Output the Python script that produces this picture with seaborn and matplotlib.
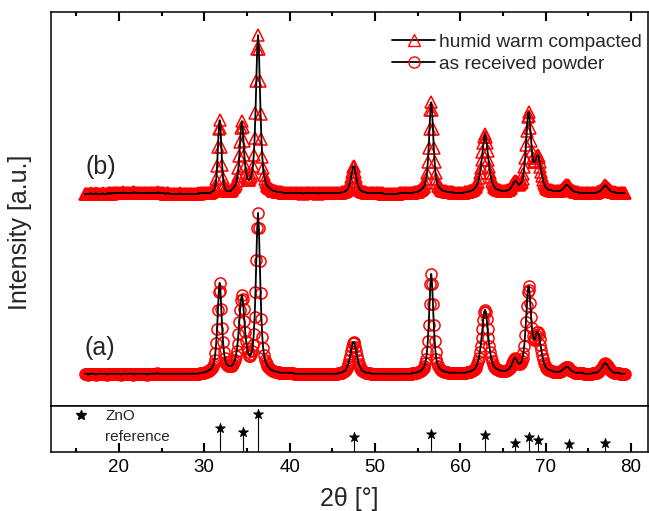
import numpy as np
import pandas as pd
import seaborn as sns
import matplotlib.pyplot as plt
from matplotlib.lines import Line2D
from matplotlib.ticker import MultipleLocator

# scan grid, 0.1 deg steps
two_theta = np.round(np.arange(160, 794) / 10, 1)

# (a) as received powder, intensity (one row per degree)
as_received = [
    1, 1, 1, 1, 0, 1, 1, 1, 1, 1,
    1, 1, 1, 0, 1, 1, 1, 1, 1, 1,
    1, 1, 1, 1, 1, 1, 0, 1, 1, 1,
    1, 1, 1, 1, 1, 1, 1, 1, 1, 1,
    1, 1, 0, 1, 1, 1, 1, 1, 1, 1,
    1, 1, 1, 1, 1, 1, 1, 0, 1, 1,
    1, 1, 1, 1, 1, 1, 1, 1, 1, 1,
    1, 1, 1, 0, 1, 1, 1, 1, 1, 1,
    1, 1, 1, 1, 1, 2, 1, 1, 1, 1,
    1, 1, 1, 1, 1, 1, 1, 1, 1, 1,
    1, 1, 1, 1, 1, 1, 1, 1, 1, 1,
    1, 1, 1, 1, 1, 1, 1, 1, 1, 1,
    1, 1, 1, 1, 1, 1, 1, 1, 1, 1,
    1, 1, 1, 1, 1, 2, 2, 2, 2, 2,
    2, 3, 3, 3, 4, 4, 5, 5, 6, 7,
    9, 11, 15, 22, 32, 46, 65, 83, 92, 84,
    66, 47, 33, 23, 17, 13, 11, 10, 9, 9,
    9, 9, 9, 10, 11, 13, 15, 19, 24, 31,
    41, 53, 65, 75, 80, 76, 66, 54, 43, 34,
    27, 23, 20, 19, 19, 21, 24, 30, 41, 58,
    83, 115, 147, 162, 147, 114, 82, 56, 38, 27,
    20, 15, 13, 11, 9, 8, 7, 6, 5, 5,
    4, 4, 4, 3, 3, 3, 3, 3, 2, 2,
    2, 2, 2, 2, 2, 2, 2, 2, 2, 2,
    2, 2, 2, 2, 2, 1, 1, 1, 1, 1,
    1, 1, 1, 1, 1, 1, 1, 1, 1, 1,
    1, 1, 1, 1, 1, 1, 1, 1, 1, 1,
    1, 1, 1, 1, 1, 1, 1, 1, 1, 1,
    1, 1, 1, 1, 1, 1, 1, 1, 1, 1,
    1, 1, 1, 1, 1, 1, 1, 2, 2, 2,
    2, 2, 3, 3, 4, 4, 5, 7, 9, 11,
    15, 19, 24, 28, 32, 33, 32, 28, 24, 19,
    15, 11, 9, 7, 5, 4, 4, 3, 3, 2,
    2, 2, 2, 2, 2, 1, 1, 1, 1, 1,
    1, 1, 1, 1, 1, 1, 1, 1, 1, 1,
    1, 1, 1, 1, 1, 1, 1, 1, 1, 1,
    1, 1, 1, 1, 1, 1, 1, 1, 1, 1,
    1, 1, 1, 1, 1, 1, 1, 1, 1, 1,
    1, 1, 1, 1, 2, 2, 2, 2, 2, 2,
    3, 3, 3, 4, 4, 5, 6, 7, 9, 12,
    16, 23, 34, 50, 71, 91, 101, 91, 71, 50,
    34, 23, 16, 12, 9, 8, 6, 5, 5, 4,
    4, 3, 3, 3, 3, 3, 2, 2, 2, 2,
    2, 2, 2, 2, 2, 2, 2, 2, 2, 2,
    2, 2, 2, 2, 2, 2, 2, 2, 3, 3,
    3, 3, 3, 4, 4, 5, 5, 6, 7, 9,
    11, 14, 17, 23, 29, 37, 46, 55, 63, 65,
    63, 56, 46, 37, 29, 23, 18, 14, 11, 9,
    8, 7, 6, 6, 5, 5, 5, 4, 4, 4,
    4, 4, 4, 4, 4, 5, 5, 6, 7, 8,
    9, 12, 14, 16, 17, 16, 15, 13, 12, 11,
    11, 12, 14, 17, 22, 29, 40, 53, 69, 83,
    89, 85, 72, 58, 47, 39, 36, 35, 37, 40,
    43, 43, 41, 36, 30, 25, 20, 16, 12, 10,
    8, 7, 6, 5, 5, 5, 4, 4, 4, 3,
    3, 3, 3, 3, 3, 3, 3, 3, 4, 4,
    5, 6, 6, 7, 8, 8, 8, 7, 6, 5,
    4, 4, 3, 3, 2, 2, 2, 2, 2, 2,
    2, 2, 2, 2, 2, 1, 1, 1, 1, 1,
    1, 1, 1, 1, 1, 2, 2, 2, 2, 2,
    2, 3, 3, 4, 5, 6, 7, 9, 10, 11,
    12, 11, 10, 9, 7, 6, 5, 4, 3, 3,
    2, 2, 2, 2, 2, 2, 2, 1, 1, 1,
    1, 1, 1, 1,
]

# (b) humid warm compacted
humid_warm = [
    1, 1, 1, 1, 1, 1, 1, 2, 1, 1,
    1, 1, 1, 2, 1, 1, 1, 1, 1, 1,
    1, 2, 1, 1, 1, 1, 1, 2, 2, 1,
    2, 2, 1, 2, 2, 2, 2, 2, 2, 2,
    2, 2, 2, 2, 2, 3, 2, 2, 2, 2,
    2, 2, 2, 2, 2, 2, 2, 3, 3, 2,
    2, 2, 2, 2, 2, 2, 2, 2, 2, 2,
    2, 2, 2, 2, 2, 2, 2, 2, 2, 2,
    2, 2, 2, 2, 2, 2, 3, 2, 2, 2,
    2, 2, 2, 2, 1, 1, 2, 2, 2, 1,
    1, 1, 1, 1, 1, 1, 1, 1, 1, 1,
    1, 1, 2, 1, 1, 1, 1, 1, 1, 1,
    1, 1, 1, 1, 1, 1, 1, 1, 1, 1,
    1, 1, 1, 2, 1, 2, 2, 2, 2, 2,
    2, 2, 2, 2, 2, 2, 2, 2, 3, 3,
    4, 4, 6, 9, 16, 29, 48, 66, 75, 67,
    48, 30, 17, 10, 7, 5, 4, 4, 4, 4,
    4, 4, 5, 6, 7, 8, 9, 11, 14, 19,
    27, 39, 53, 67, 74, 68, 54, 40, 29, 22,
    18, 16, 15, 15, 17, 19, 22, 29, 40, 57,
    82, 114, 146, 160, 146, 114, 81, 56, 38, 27,
    20, 16, 13, 11, 9, 8, 7, 7, 6, 5,
    5, 4, 4, 4, 4, 3, 3, 3, 3, 3,
    3, 3, 2, 2, 2, 2, 2, 2, 2, 2,
    2, 2, 2, 2, 2, 2, 2, 2, 2, 2,
    2, 2, 2, 2, 2, 2, 1, 2, 2, 2,
    2, 2, 2, 2, 2, 2, 2, 2, 2, 2,
    2, 2, 2, 1, 2, 2, 2, 2, 2, 2,
    2, 2, 2, 2, 2, 2, 2, 2, 2, 2,
    2, 2, 2, 2, 2, 2, 2, 2, 2, 2,
    2, 3, 3, 3, 3, 4, 4, 5, 6, 8,
    10, 13, 18, 23, 28, 29, 28, 23, 18, 13,
    10, 8, 6, 5, 4, 4, 3, 3, 3, 3,
    2, 2, 2, 2, 2, 2, 2, 2, 2, 2,
    2, 2, 2, 2, 2, 2, 2, 2, 2, 2,
    1, 1, 1, 1, 1, 1, 1, 1, 1, 1,
    1, 1, 1, 1, 1, 1, 1, 1, 2, 2,
    2, 2, 2, 2, 2, 2, 2, 2, 2, 2,
    2, 2, 2, 2, 2, 2, 3, 3, 3, 3,
    3, 4, 4, 5, 5, 6, 7, 8, 9, 12,
    16, 22, 33, 47, 66, 85, 93, 85, 66, 47,
    33, 22, 16, 12, 9, 8, 7, 6, 5, 5,
    4, 4, 4, 4, 3, 3, 3, 3, 3, 3,
    3, 3, 2, 2, 2, 2, 2, 2, 2, 2,
    2, 2, 2, 2, 2, 3, 3, 3, 3, 3,
    4, 4, 4, 4, 5, 5, 6, 7, 8, 9,
    11, 13, 17, 22, 27, 35, 43, 52, 58, 61,
    58, 52, 44, 35, 28, 22, 18, 14, 12, 10,
    8, 7, 6, 6, 5, 5, 5, 5, 4, 4,
    4, 4, 4, 4, 4, 5, 5, 5, 6, 7,
    8, 10, 11, 13, 14, 14, 13, 12, 11, 10,
    11, 12, 13, 16, 21, 28, 37, 50, 64, 78,
    83, 79, 67, 54, 44, 37, 33, 33, 34, 37,
    39, 40, 38, 33, 28, 23, 19, 15, 12, 10,
    8, 7, 6, 6, 5, 5, 5, 5, 4, 4,
    4, 4, 4, 4, 4, 4, 4, 4, 5, 5,
    6, 7, 8, 9, 10, 10, 10, 9, 8, 7,
    6, 5, 4, 4, 3, 3, 3, 3, 3, 2,
    2, 2, 2, 2, 2, 2, 2, 2, 2, 2,
    2, 2, 2, 2, 2, 2, 2, 2, 2, 2,
    3, 3, 3, 4, 4, 5, 6, 7, 8, 9,
    10, 9, 8, 7, 6, 5, 4, 4, 3, 3,
    3, 3, 2, 2, 2, 2, 2, 2, 2, 2,
    2, 2, 2, 2,
]

# ZnO reference lines
ref_pos = [31.8, 34.5, 36.3, 47.6, 56.6, 62.95, 66.4, 68.0, 69.1, 72.7, 77.0]
ref_int = [72, 60, 115, 44, 53, 50, 27, 45, 35, 25, 27]

offset_a = 31
offset_b = 211

assert len(as_received) == len(two_theta) == len(humid_warm)

sns.set_style('ticks')
plt.rcParams['font.family'] = ['Liberation Sans', 'DejaVu Sans']
plt.rcParams.update({
    'axes.edgecolor': 'black',
    'axes.linewidth': 1.1,
    'xtick.color': 'black',
    'xtick.labelcolor': 'black',
    'xtick.labelsize': 13.5,
    'xtick.major.pad': 5,
})

df = pd.DataFrame({'tt': two_theta,
                   'a': np.array(as_received) + offset_a,
                   'b': np.array(humid_warm) + offset_b})
ref = pd.DataFrame({'pos': ref_pos, 'int': ref_int})

fig = plt.figure(figsize=(6.49, 5.11), dpi=100)
ax = fig.add_axes([0.0781, 0.2061, 0.9203, 0.7698])
ax_ref = fig.add_axes([0.0781, 0.1155, 0.9203, 0.0906], sharex=ax)

mk = dict(markersize=8, markerfacecolor='none', markeredgecolor='red',
          markeredgewidth=1.1, linestyle='none', estimator=None, sort=False)
sns.lineplot(data=df, x='tt', y='b', marker='^', ax=ax, **mk)
sns.lineplot(data=df, x='tt', y='a', marker='o', ax=ax, **mk)
sns.lineplot(data=df, x='tt', y='b', color='black', lw=1.3, ax=ax, estimator=None, sort=False)
sns.lineplot(data=df, x='tt', y='a', color='black', lw=1.3, ax=ax, estimator=None, sort=False)

ax.text(17.9, 239, '(b)', fontsize=18, ha='center', va='center')
ax.text(17.8, 58, '(a)', fontsize=18, ha='center', va='center')

handles = [Line2D([], [], color='black', lw=1.3, marker='^', markersize=8,
                  markerfacecolor='none', markeredgecolor='red', markeredgewidth=1.0),
           Line2D([], [], color='black', lw=1.3, marker='o', markersize=8,
                  markerfacecolor='none', markeredgecolor='red', markeredgewidth=1.0)]
ax.legend(handles, ['humid warm compacted', 'as received powder'],
          loc='upper right', bbox_to_anchor=(0.9895, 0.946), frameon=False,
          fontsize=13.8, handlelength=2.24, handletextpad=0.2,
          labelspacing=0.25, borderpad=0, borderaxespad=0)

# reference panel
ax_ref.vlines(ref['pos'], 0, ref['int'], color='black', lw=0.8)
sns.scatterplot(data=ref, x='pos', y='int', marker='*', color='black',
                edgecolor='black', s=55, ax=ax_ref, zorder=3)
star = Line2D([], [], ls='none', marker='*', color='black', markersize=7)
ax_ref.legend([star], ['ZnO'], loc='upper left', bbox_to_anchor=(0.0258, 0.93),
              frameon=False, fontsize=11, handlelength=2.0, handletextpad=0.55,
              borderpad=0, borderaxespad=0)
ax_ref.text(0.0914, 0.33, 'reference', transform=ax_ref.transAxes,
            fontsize=11, ha='left', va='center')

ax.set_xlim(12, 82)
ax.set_ylim(0, 394)
ax_ref.set_ylim(0, 140)
ax.set_yticks([])
ax_ref.set_yticks([])
ax.set_xlabel('')
ax.set_ylabel('')
ax_ref.set_ylabel('')

ax_ref.set_xlabel('2θ [°]', fontsize=18, labelpad=8)
fig.text(0.031, 0.546, 'Intensity [a.u.]', rotation=90, fontsize=18,
         ha='center', va='center')

# ticks: inward, top of the upper panel and bottom of the reference panel
ax_ref.xaxis.set_major_locator(MultipleLocator(10))
ax_ref.xaxis.set_minor_locator(MultipleLocator(5))
ax.tick_params(axis='x', which='both', direction='in', top=True, bottom=False, labelbottom=False)
ax_ref.tick_params(axis='x', which='both', direction='in', top=False, bottom=True)
for a in (ax, ax_ref):
    a.tick_params(axis='x', which='major', length=6.5, width=1.5)
    a.tick_params(axis='x', which='minor', length=3, width=1.5)

# tick marks also stamped at the locator positions (tick lines were not rendering here)
major = [v for v in ax_ref.xaxis.get_majorticklocs() if 12 <= v <= 82]
minor = [v for v in ax_ref.xaxis.get_minorticklocs() if 12 <= v <= 82]
for a, edge, mark in ((ax_ref, 0, 2), (ax, 1, 3)):
    tr = a.get_xaxis_transform()
    for locs, size in ((major, 6.5), (minor, 3)):
        a.plot(locs, [edge] * len(locs), ls='none', marker=mark, ms=size, mew=1.2,
               color='black', transform=tr, clip_on=False, zorder=4)

fig.savefig('out.png', dpi=100)
